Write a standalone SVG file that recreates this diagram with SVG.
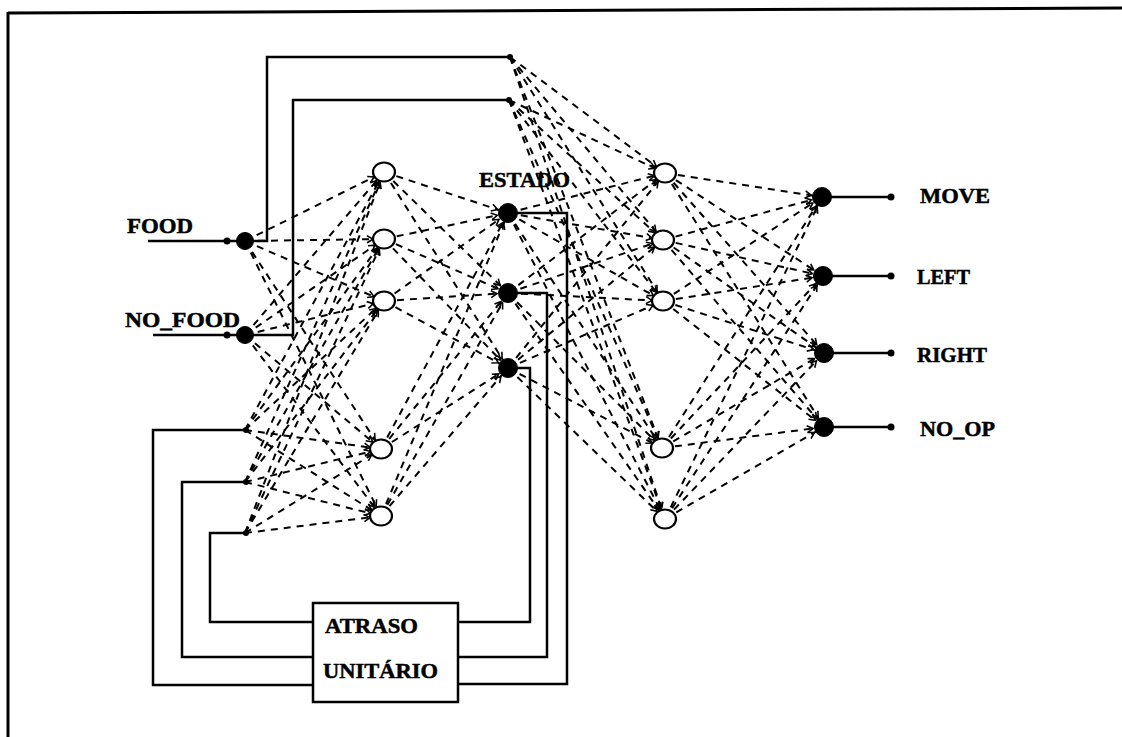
<svg xmlns="http://www.w3.org/2000/svg" width="1122" height="737" viewBox="0 0 1122 737">
<style>
.lbl{font-family:"Liberation Serif","DejaVu Serif",serif;font-weight:bold;font-size:22px;fill:#000;stroke:#000;stroke-width:0.5}
.d line{stroke:#000;stroke-width:2;stroke-dasharray:7 6;fill:none;marker-end:url(#a)}
.s{stroke:#000;stroke-width:2.5;fill:none}
.open{fill:#fff;stroke:#000;stroke-width:2.2}
.full{fill:#000;stroke:#000;stroke-width:1}
.dot{fill:#000}
</style>
<defs>
<marker id="a" markerUnits="userSpaceOnUse" orient="auto" refX="11" refY="0" markerWidth="20" markerHeight="20" overflow="visible">
<path d="M-6,-3.5 L0,0 L-6,3.5" fill="none" stroke="#000" stroke-width="1.6"/>
</marker>
</defs>
<rect width="1122" height="737" fill="#fff"/>
<g id="frame">
<line x1="8" y1="13" x2="1122" y2="8" stroke="#000" stroke-width="3"/>
<line x1="8" y1="12" x2="8" y2="737" stroke="#000" stroke-width="3"/>
</g>
<g id="connectors">
<g class="d">
<line x1="245" y1="241" x2="384" y2="172"/>
<line x1="245" y1="241" x2="384" y2="239"/>
<line x1="245" y1="241" x2="384" y2="301"/>
<line x1="245" y1="241" x2="381" y2="449"/>
<line x1="245" y1="241" x2="381" y2="516"/>
<line x1="245" y1="335" x2="384" y2="172"/>
<line x1="245" y1="335" x2="384" y2="239"/>
<line x1="245" y1="335" x2="384" y2="301"/>
<line x1="245" y1="335" x2="381" y2="449"/>
<line x1="245" y1="335" x2="381" y2="516"/>
<line x1="245" y1="430" x2="384" y2="172"/>
<line x1="245" y1="430" x2="384" y2="239"/>
<line x1="245" y1="430" x2="384" y2="301"/>
<line x1="245" y1="430" x2="381" y2="449"/>
<line x1="245" y1="430" x2="381" y2="516"/>
<line x1="245" y1="482" x2="384" y2="172"/>
<line x1="245" y1="482" x2="384" y2="239"/>
<line x1="245" y1="482" x2="384" y2="301"/>
<line x1="245" y1="482" x2="381" y2="449"/>
<line x1="245" y1="482" x2="381" y2="516"/>
<line x1="245" y1="533" x2="384" y2="172"/>
<line x1="245" y1="533" x2="384" y2="239"/>
<line x1="245" y1="533" x2="384" y2="301"/>
<line x1="245" y1="533" x2="381" y2="449"/>
<line x1="245" y1="533" x2="381" y2="516"/>

<line x1="384" y1="172" x2="508" y2="213"/>
<line x1="384" y1="172" x2="508" y2="293"/>
<line x1="384" y1="172" x2="508" y2="368"/>
<line x1="384" y1="239" x2="508" y2="213"/>
<line x1="384" y1="239" x2="508" y2="293"/>
<line x1="384" y1="239" x2="508" y2="368"/>
<line x1="384" y1="301" x2="508" y2="213"/>
<line x1="384" y1="301" x2="508" y2="293"/>
<line x1="384" y1="301" x2="508" y2="368"/>
<line x1="381" y1="449" x2="508" y2="213"/>
<line x1="381" y1="449" x2="508" y2="293"/>
<line x1="381" y1="449" x2="508" y2="368"/>
<line x1="381" y1="516" x2="508" y2="213"/>
<line x1="381" y1="516" x2="508" y2="293"/>
<line x1="381" y1="516" x2="508" y2="368"/>

<line x1="510" y1="57" x2="665" y2="173"/>
<line x1="510" y1="57" x2="663" y2="240"/>
<line x1="510" y1="57" x2="663" y2="301"/>
<line x1="510" y1="57" x2="662" y2="448"/>
<line x1="510" y1="57" x2="665" y2="519"/>
<line x1="509" y1="100" x2="665" y2="173"/>
<line x1="509" y1="100" x2="663" y2="240"/>
<line x1="509" y1="100" x2="663" y2="301"/>
<line x1="509" y1="100" x2="662" y2="448"/>
<line x1="509" y1="100" x2="665" y2="519"/>
<line x1="508" y1="213" x2="665" y2="173"/>
<line x1="508" y1="213" x2="663" y2="240"/>
<line x1="508" y1="213" x2="663" y2="301"/>
<line x1="508" y1="213" x2="662" y2="448"/>
<line x1="508" y1="213" x2="665" y2="519"/>
<line x1="508" y1="293" x2="665" y2="173"/>
<line x1="508" y1="293" x2="663" y2="240"/>
<line x1="508" y1="293" x2="663" y2="301"/>
<line x1="508" y1="293" x2="662" y2="448"/>
<line x1="508" y1="293" x2="665" y2="519"/>
<line x1="508" y1="368" x2="665" y2="173"/>
<line x1="508" y1="368" x2="663" y2="240"/>
<line x1="508" y1="368" x2="663" y2="301"/>
<line x1="508" y1="368" x2="662" y2="448"/>
<line x1="508" y1="368" x2="665" y2="519"/>

<line x1="665" y1="173" x2="822" y2="197"/>
<line x1="665" y1="173" x2="823" y2="276"/>
<line x1="665" y1="173" x2="824" y2="353"/>
<line x1="665" y1="173" x2="824" y2="427"/>
<line x1="663" y1="240" x2="822" y2="197"/>
<line x1="663" y1="240" x2="823" y2="276"/>
<line x1="663" y1="240" x2="824" y2="353"/>
<line x1="663" y1="240" x2="824" y2="427"/>
<line x1="663" y1="301" x2="822" y2="197"/>
<line x1="663" y1="301" x2="823" y2="276"/>
<line x1="663" y1="301" x2="824" y2="353"/>
<line x1="663" y1="301" x2="824" y2="427"/>
<line x1="662" y1="448" x2="822" y2="197"/>
<line x1="662" y1="448" x2="823" y2="276"/>
<line x1="662" y1="448" x2="824" y2="353"/>
<line x1="662" y1="448" x2="824" y2="427"/>
<line x1="665" y1="519" x2="822" y2="197"/>
<line x1="665" y1="519" x2="823" y2="276"/>
<line x1="665" y1="519" x2="824" y2="353"/>
<line x1="665" y1="519" x2="824" y2="427"/>
</g>
<g id="solid">
<path class="s" d="M148,241 H240"/>
<path class="s" d="M153,335 H240"/>
<path class="s" d="M245,241 H267 V57 H510"/>
<path class="s" d="M245,335 H293 V100 H509"/>
<path class="s" d="M508,213 H567 V684 H458"/>
<path class="s" d="M508,293 H547 V657 H458"/>
<path class="s" d="M508,368 H530 V622 H458"/>
<path class="s" d="M313,622 H210 V533 H246"/>
<path class="s" d="M313,657 H182 V482 H246"/>
<path class="s" d="M313,685 H153 V430 H246"/>
<path class="s" d="M822,197 H891"/>
<path class="s" d="M823,276 H891"/>
<path class="s" d="M824,353 H891"/>
<path class="s" d="M824,427 H891"/>
<circle class="dot" cx="227" cy="241" r="3.5"/>
<circle class="dot" cx="227" cy="335" r="3.5"/>
<circle class="dot" cx="510" cy="57" r="3"/>
<circle class="dot" cx="509" cy="100" r="3"/>
<circle class="dot" cx="246" cy="430" r="3"/>
<circle class="dot" cx="246" cy="482" r="3"/>
<circle class="dot" cx="246" cy="533" r="3"/>
<circle class="dot" cx="891" cy="197" r="3.5"/>
<circle class="dot" cx="891" cy="276" r="3.5"/>
<circle class="dot" cx="891" cy="353" r="3.5"/>
<circle class="dot" cx="891" cy="427" r="3.5"/>
</g>
</g>
<g id="in-food"><circle class="full" cx="245" cy="241" r="8.5"/><text class="lbl" x="127" y="233" textLength="66" lengthAdjust="spacingAndGlyphs">FOOD</text></g>
<g id="in-nofood"><circle class="full" cx="245" cy="335" r="8.5"/><text class="lbl" x="125" y="327" textLength="115" lengthAdjust="spacingAndGlyphs">NO_FOOD</text></g>
<g id="h1-1"><ellipse class="open" cx="384" cy="172" rx="11" ry="9.5"/></g>
<g id="h1-2"><ellipse class="open" cx="384" cy="239" rx="11" ry="9.5"/></g>
<g id="h1-3"><ellipse class="open" cx="384" cy="301" rx="11" ry="9.5"/></g>
<g id="h1-4"><ellipse class="open" cx="381" cy="449" rx="11" ry="9.5"/></g>
<g id="h1-5"><ellipse class="open" cx="381" cy="516" rx="11" ry="9.5"/></g>
<g id="estado-1"><circle class="full" cx="508" cy="213" r="9.5"/><text class="lbl" x="479" y="187" textLength="91" lengthAdjust="spacingAndGlyphs">ESTADO</text></g>
<g id="estado-2"><circle class="full" cx="508" cy="293" r="9.5"/></g>
<g id="estado-3"><circle class="full" cx="508" cy="368" r="9.5"/></g>
<g id="h2-1"><ellipse class="open" cx="665" cy="173" rx="11" ry="9.5"/></g>
<g id="h2-2"><ellipse class="open" cx="663" cy="240" rx="11" ry="9.5"/></g>
<g id="h2-3"><ellipse class="open" cx="663" cy="301" rx="11" ry="9.5"/></g>
<g id="h2-4"><ellipse class="open" cx="662" cy="448" rx="11" ry="9.5"/></g>
<g id="h2-5"><ellipse class="open" cx="665" cy="519" rx="11" ry="9.5"/></g>
<g id="out-move"><circle class="full" cx="822" cy="197" r="9.5"/><text class="lbl" x="920" y="203" textLength="70" lengthAdjust="spacingAndGlyphs">MOVE</text></g>
<g id="out-left"><circle class="full" cx="823" cy="276" r="9.5"/><text class="lbl" x="917" y="284" textLength="53" lengthAdjust="spacingAndGlyphs">LEFT</text></g>
<g id="out-right"><circle class="full" cx="824" cy="353" r="9.5"/><text class="lbl" x="917" y="362" textLength="70" lengthAdjust="spacingAndGlyphs">RIGHT</text></g>
<g id="out-noop"><circle class="full" cx="824" cy="427" r="9.5"/><text class="lbl" x="920" y="436" textLength="75" lengthAdjust="spacingAndGlyphs">NO_OP</text></g>
<g id="atraso">
<rect x="313" y="603" width="145" height="99" fill="#fff" stroke="#000" stroke-width="2.5"/>
<text class="lbl" x="325" y="633" textLength="93" lengthAdjust="spacingAndGlyphs">ATRASO</text>
<text class="lbl" x="323" y="678" textLength="115" lengthAdjust="spacingAndGlyphs">UNITÁRIO</text>
</g>
</svg>
